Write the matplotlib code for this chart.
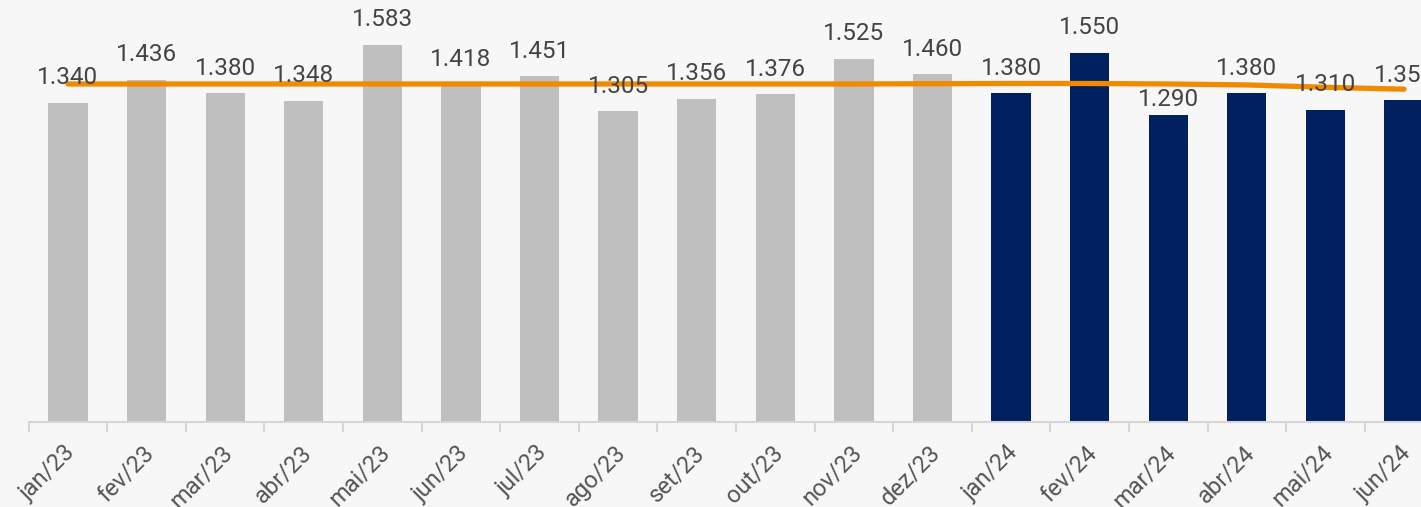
import matplotlib
matplotlib.use("Agg")
import matplotlib.pyplot as plt
import matplotlib.transforms as mtransforms
import numpy as np

months = ["jan/23", "fev/23", "mar/23", "abr/23", "mai/23", "jun/23", "jul/23", "ago/23",
          "set/23", "out/23", "nov/23", "dez/23", "jan/24", "fev/24", "mar/24", "abr/24",
          "mai/24", "jun/24"]
values = [1340, 1436, 1380, 1348, 1583, 1418, 1451, 1305, 1356, 1376, 1525, 1460,
          1380, 1550, 1290, 1380, 1310, 1350]
trend = [1419, 1419, 1419, 1419, 1419, 1419, 1419, 1419, 1419, 1419, 1419, 1420,
         1421, 1421, 1419, 1415, 1405, 1397]
years = ["2023"] * 12 + ["2024"] * 6

plt.rcParams['font.family'] = ['Roboto', 'DejaVu Sans']
BG = "#f7f7f7"
colors = {"2023": "#bfbfbf", "2024": "#00205f"}

fig = plt.figure(figsize=(14.21, 5.07), dpi=100, facecolor=BG)
ax = fig.add_axes([28.7 / 1421, 85.5 / 507, 1 - 28.7 / 1421, 421.5 / 507])
ax.set_facecolor(BG)

x = np.arange(len(months))
ax.bar(x, values, width=0.5, color=[colors[y] for y in years], zorder=2)
ax.plot(x, trend, color="#f08a00", lw=3.8, solid_capstyle="round", zorder=3)

label_offsets = [25] * len(values)
label_offsets[14] = 15
for xi, v, off in zip(x, values, label_offsets):
    ax.annotate(f"{v:,}".replace(",", "."), (xi, v), xytext=(0, off),
                textcoords="offset pixels", ha="center", va="center",
                fontsize=17.5, color="#444444", zorder=4)

ax.set_xlim(-0.5, 17 + 17 / 78.6)
ax.set_ylim(0, 1772)
ax.set_yticks([])
for s in ["top", "right", "left"]:
    ax.spines[s].set_visible(False)
ax.spines["bottom"].set_color("#d6d6d6")
ax.spines["bottom"].set_linewidth(1.5)

ax.set_xticks(x)
ax.set_xticklabels(months, rotation=45, ha="right", va="center",
                   rotation_mode="anchor", fontsize=17, color="#555555")
ax.tick_params(axis="x", which="major", length=0, pad=20)
shift = mtransforms.ScaledTranslation(4 / 100, 0, fig.dpi_scale_trans)
for lbl in ax.get_xticklabels():
    lbl.set_transform(lbl.get_transform() + shift)
ax.set_xticks(np.arange(-0.5, 17.5, 1), minor=True)
ax.tick_params(axis="x", which="minor", length=7, width=1.5, color="#d6d6d6")

fig.savefig("out.png", dpi=100, facecolor=BG)
